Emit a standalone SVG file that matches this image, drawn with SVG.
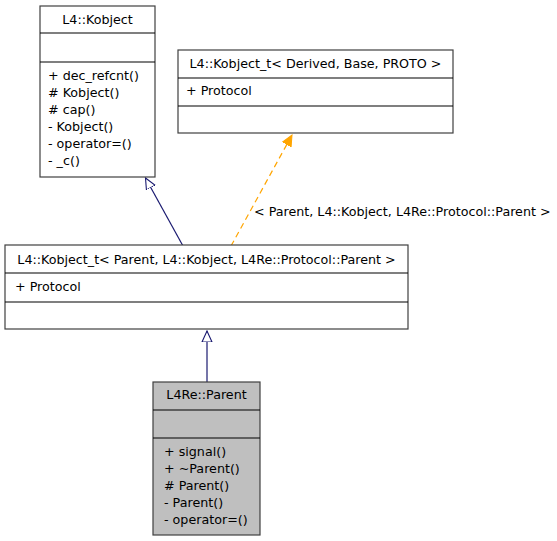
<svg xmlns="http://www.w3.org/2000/svg" width="557" height="541" viewBox="0 0 557 541">
<style>
text{font-family:"DejaVu Sans","Liberation Sans",sans-serif;font-size:12.7px;fill:#000}
.c{text-anchor:middle}
.box{fill:#fff;stroke:#404040;stroke-width:1.2}
.sep{stroke:#000;stroke-width:1.2}
.inh{fill:none;stroke:#191970;stroke-width:1.2}
.tpl{fill:none;stroke:#ffa500;stroke-width:1.2;stroke-dasharray:6,4}
</style>
<defs>
<marker id="hollow" markerWidth="12" markerHeight="12" refX="11" refY="5" orient="auto" markerUnits="userSpaceOnUse" viewBox="0 0 12 10">
<path d="M0,0 L11,5 L0,10 Z" fill="#fff" stroke="#191970" stroke-width="1.1"/>
</marker>
<marker id="filled" markerWidth="12" markerHeight="12" refX="11" refY="5" orient="auto" markerUnits="userSpaceOnUse" viewBox="0 0 12 10">
<path d="M0,0 L11,5 L0,10 Z" fill="#ffa500" stroke="#ffa500" stroke-width="1"/>
</marker>
</defs>
<g id="connectors">
<path class="inh" d="M183,246 L145.5,178" marker-end="url(#hollow)"/>
<path class="tpl" d="M231,246 L292,135" marker-end="url(#filled)"/>
<text x="254" y="216">&lt; Parent, L4::Kobject, L4Re::Protocol::Parent &gt;</text>
<path class="inh" d="M207,382 L207,331" marker-end="url(#hollow)"/>
</g>
<g id="kobject">
<rect class="box" x="40" y="6" width="115" height="171"/>
<line class="sep" x1="40" y1="33" x2="155" y2="33"/>
<line class="sep" x1="40" y1="62" x2="155" y2="62"/>
<text class="c" x="97.5" y="24">L4::Kobject</text>
<text x="48" y="80">+ dec_refcnt()</text>
<text x="48" y="97">#  Kobject()</text>
<text x="48" y="114">#  cap()</text>
<text x="48" y="131">- Kobject()</text>
<text x="48" y="148">- operator=()</text>
<text x="48" y="165">- _c()</text>
</g>
<g id="kobject_t_tpl">
<rect class="box" x="178" y="50" width="275" height="83"/>
<line class="sep" x1="178" y1="78" x2="453" y2="78"/>
<line class="sep" x1="178" y1="106" x2="453" y2="106"/>
<text class="c" x="315.5" y="68">L4::Kobject_t&lt; Derived, Base, PROTO &gt;</text>
<text x="186" y="95">+ Protocol</text>
</g>
<g id="kobject_t_parent">
<rect class="box" x="5" y="245" width="403" height="84"/>
<line class="sep" x1="5" y1="273" x2="408" y2="273"/>
<line class="sep" x1="5" y1="302" x2="408" y2="302"/>
<text class="c" x="206.5" y="264">L4::Kobject_t&lt; Parent, L4::Kobject, L4Re::Protocol::Parent &gt;</text>
<text x="15" y="291">+ Protocol</text>
</g>
<g id="parent">
<rect class="box" x="153" y="382" width="107" height="153" style="fill:#bfbfbf"/>
<line class="sep" x1="153" y1="410" x2="260" y2="410"/>
<line class="sep" x1="153" y1="438" x2="260" y2="438"/>
<text class="c" x="206.5" y="399">L4Re::Parent</text>
<text x="164" y="456">+ signal()</text>
<text x="164" y="473">+ ~Parent()</text>
<text x="164" y="490">#  Parent()</text>
<text x="164" y="507">- Parent()</text>
<text x="164" y="524">- operator=()</text>
</g>
</svg>
